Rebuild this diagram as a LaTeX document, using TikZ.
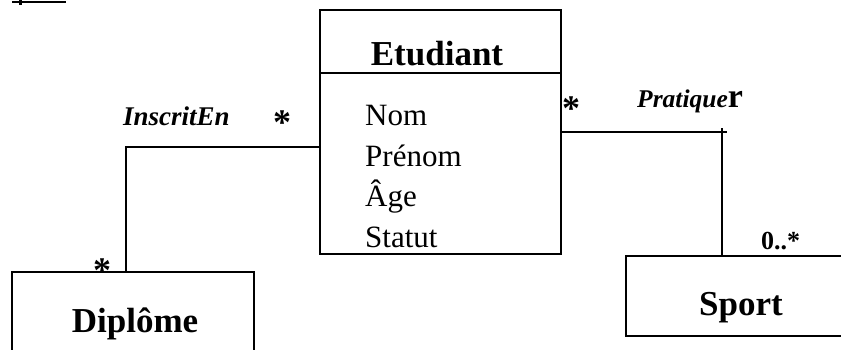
\documentclass[tikz,border=0pt]{standalone}
\usepackage{fontspec}
\setmainfont{Liberation Serif}
\begin{document}
\begin{tikzpicture}[x=1pt,y=-1pt,
  box/.style={draw,line width=1.6pt,rectangle,inner sep=0pt},
  conn/.style={line width=1.5pt},
  attr/.style={inner sep=0pt,anchor=base west,font=\fontsize{31}{34}\selectfont},
  title/.style={inner sep=0pt,anchor=base,font=\fontsize{35}{38}\selectfont\bfseries},
  rolelbl/.style={inner sep=0pt,anchor=base west,font=\fontsize{27}{29}\selectfont\bfseries\itshape},
  mult/.style={inner sep=0pt,anchor=base,font=\fontsize{36}{38}\selectfont\bfseries}]
\useasboundingbox (0,0) rectangle (841,349);
% cropped fragment at top left
\draw[line width=1.5pt] (12,2) coordinate (fa) -- (66,2) coordinate (fb);
\fill (19,0) rectangle (22,5);
% boxes
\node[box,minimum width=241pt,minimum height=244pt] (etud) at (440.5,132) {};
\draw[line width=1.6pt] (320,73) coordinate (dl) -- (561,73) coordinate (dr);
\node[box,minimum width=242pt,minimum height=96pt] (dip) at (133,320) {};
\node[box,minimum width=240pt,minimum height=80pt] (sport) at (746,296) {};
% titles
\node[title] (tetud) at (437,65) {Etudiant};
\node[title] (tdip) at (135,332) {Diplôme};
\node[title] (tsport) at (741,315) {Sport};
% attributes
\node[attr] (a1) at (365,125) {Nom};
\node[attr] (a2) at (365,166) {Prénom};
\node[attr] (a3) at (365,206) {Âge};
\node[attr] (a4) at (365,247) {Statut};
% connectors
\coordinate (l1) at (126,147);
\draw[conn] (etud.west |- l1) -- (l1) -- (l1 |- dip.north);
\coordinate (r1) at (722,132);
\coordinate (r2) at (727,132);
\coordinate (r0) at (722,128);
\draw[conn] (etud.east |- r1) -- (r2);
\draw[conn] (r0) -- (r0 |- sport.north);
% labels
\node[rolelbl] (lins) at (123,125) {InscritEn};
\node[inner sep=0pt,anchor=base west] (lprat) at (637,107) {\fontsize{25.5}{27}\selectfont\bfseries\itshape Pratique\upshape\fontsize{34}{36}\selectfont r};
\node[mult] (m1) at (282,134) {*};
\node[mult] (m2) at (571,120) {*};
\node[mult] (m3) at (102,282) {*};
\node[inner sep=0pt,anchor=base west,font=\fontsize{26}{28}\selectfont\bfseries] (m4) at (761,249) {0..*};
\end{tikzpicture}
\end{document}
